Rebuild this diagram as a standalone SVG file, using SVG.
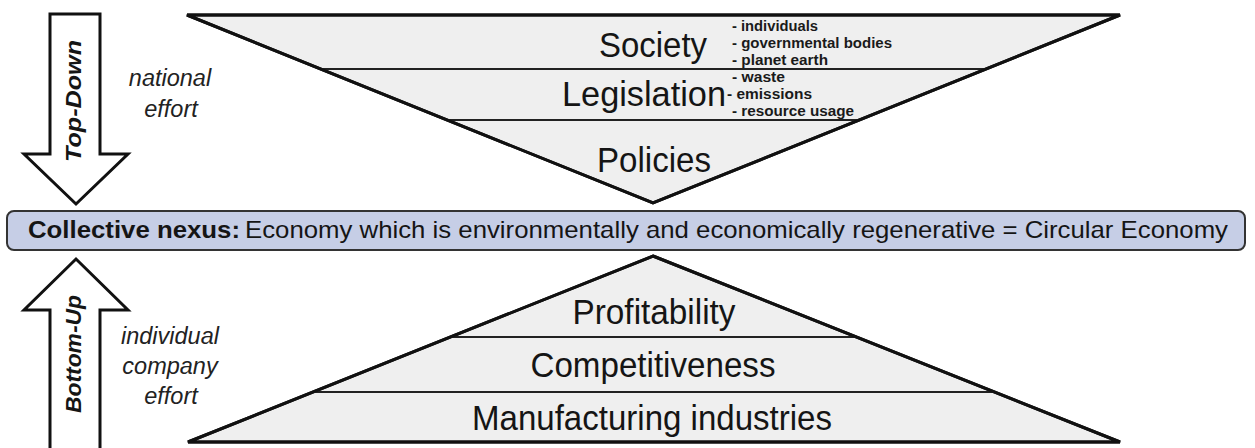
<svg xmlns="http://www.w3.org/2000/svg" width="1255" height="448" viewBox="0 0 1255 448">
  <style>
    .tri { fill: #efefef; stroke: #111; stroke-width: 3; stroke-linejoin: miter; }
    .sep { stroke: #222; stroke-width: 2; }
    .big { font-family: "Liberation Sans", Arial, sans-serif; font-size: 35px; fill: #151515; text-anchor: middle; }
    .lst { font-family: "Liberation Sans", Arial, sans-serif; font-size: 14px; font-weight: bold; fill: #1a1a1a; }
    .arrow { fill: #fff; stroke: #111; stroke-width: 3; stroke-linejoin: miter; }
    .arrtxt { font-family: "Liberation Sans", Arial, sans-serif; font-size: 22px; font-weight: bold; font-style: italic; fill: #151515; text-anchor: middle; }
    .eff { font-family: "Liberation Sans", Arial, sans-serif; font-size: 23.5px; font-style: italic; fill: #222; text-anchor: middle; }
    .box { fill: #c6cee6; stroke: #333; stroke-width: 2; }
    .boxtxt { font-family: "Liberation Sans", Arial, sans-serif; font-size: 24px; fill: #151515; }
  </style>
  <defs>
    <clipPath id="clipTop"><polygon points="187,15 1120,15 653,203"/></clipPath>
    <clipPath id="clipBot"><polygon points="653,256 1120,442 188,442"/></clipPath>
  </defs>

  <g id="topdown-arrow">
    <polygon class="arrow" points="50,14 100,14 100,154 128,154 76,204 24,154 50,154"/>
    <text class="arrtxt" transform="translate(81,101) rotate(-90)" textLength="122" lengthAdjust="spacingAndGlyphs">Top-Down</text>
  </g>
  <g id="national-effort">
    <text class="eff" x="170" y="86">national</text>
    <text class="eff" x="171" y="117">effort</text>
  </g>

  <g id="top-triangle">
    <polygon class="tri" points="187,15 1120,15 653,203"/>
    <g clip-path="url(#clipTop)">
      <line class="sep" x1="0" y1="69" x2="1255" y2="69"/>
      <line class="sep" x1="0" y1="120" x2="1255" y2="120"/>
    </g>
    <polygon points="187,15 1120,15 653,203" fill="none" stroke="#111" stroke-width="3"/>
  </g>
  <g id="society">
    <text class="big" x="653" y="57" textLength="108" lengthAdjust="spacingAndGlyphs">Society</text>
    <text class="lst" x="732" y="31" textLength="86" lengthAdjust="spacingAndGlyphs">-  individuals</text>
    <text class="lst" x="732" y="48" textLength="160" lengthAdjust="spacingAndGlyphs">-  governmental bodies</text>
    <text class="lst" x="732" y="65" textLength="96" lengthAdjust="spacingAndGlyphs">-  planet earth</text>
  </g>
  <g id="legislation">
    <text class="big" x="644" y="106" textLength="164" lengthAdjust="spacingAndGlyphs">Legislation</text>
    <text class="lst" x="732" y="82" textLength="53" lengthAdjust="spacingAndGlyphs">-  waste</text>
    <text class="lst" x="727" y="99" textLength="85" lengthAdjust="spacingAndGlyphs">-  emissions</text>
    <text class="lst" x="732" y="116" textLength="122" lengthAdjust="spacingAndGlyphs">-  resource usage</text>
  </g>
  <g id="policies">
    <text class="big" x="654" y="172" textLength="114" lengthAdjust="spacingAndGlyphs">Policies</text>
  </g>

  <g id="collective-nexus">
    <rect class="box" x="7" y="211" width="1238" height="39" rx="7"/>
    <text class="boxtxt" x="28" y="238" font-weight="bold" textLength="212" lengthAdjust="spacingAndGlyphs">Collective nexus:</text>
    <text class="boxtxt" x="245" y="238" textLength="983" lengthAdjust="spacingAndGlyphs">Economy which is environmentally and economically regenerative = Circular Economy</text>
  </g>

  <g id="bottomup-arrow">
    <polygon class="arrow" points="50,452 50,310 24,310 76,259 128,310 100,310 100,452"/>
    <text class="arrtxt" transform="translate(81,354) rotate(-90)" textLength="118" lengthAdjust="spacingAndGlyphs">Bottom-Up</text>
  </g>
  <g id="company-effort">
    <text class="eff" x="170" y="344">individual</text>
    <text class="eff" x="170" y="374">company</text>
    <text class="eff" x="171" y="404">effort</text>
  </g>

  <g id="bottom-triangle">
    <polygon class="tri" points="653,256 1120,442 188,442"/>
    <g clip-path="url(#clipBot)">
      <line class="sep" x1="0" y1="337" x2="1255" y2="337"/>
      <line class="sep" x1="0" y1="392" x2="1255" y2="392"/>
    </g>
    <polygon points="653,256 1120,442 188,442" fill="none" stroke="#111" stroke-width="3"/>
  </g>
  <g id="profitability">
    <text class="big" x="654" y="324" textLength="163" lengthAdjust="spacingAndGlyphs">Profitability</text>
  </g>
  <g id="competitiveness">
    <text class="big" x="653" y="377" textLength="245" lengthAdjust="spacingAndGlyphs">Competitiveness</text>
  </g>
  <g id="manufacturing">
    <text class="big" x="652" y="430" textLength="360" lengthAdjust="spacingAndGlyphs">Manufacturing industries</text>
  </g>

  <g id="connectors"></g>
</svg>
